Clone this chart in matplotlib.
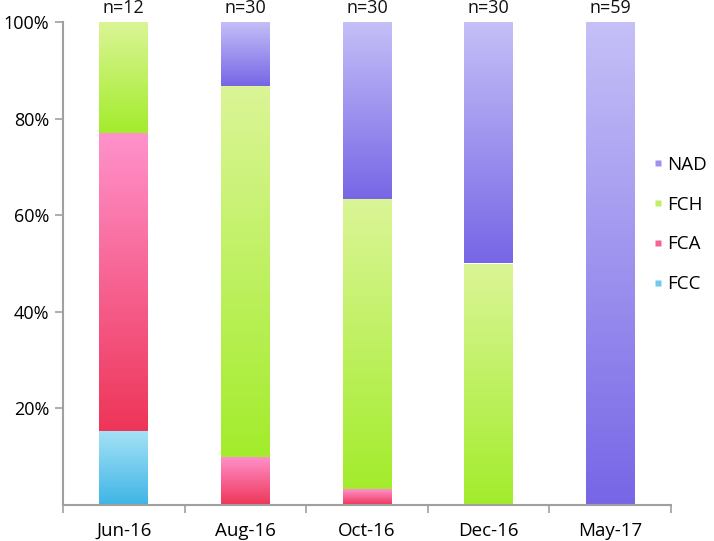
import numpy as np
import matplotlib
matplotlib.use("Agg")
import matplotlib.pyplot as plt
from matplotlib.colors import LinearSegmentedColormap
from matplotlib.lines import Line2D

plt.rcParams['font.family'] = ['Open Sans', 'DejaVu Sans']

categories = ["Jun-16", "Aug-16", "Oct-16", "Dec-16", "May-17"]
n_labels = ["n=12", "n=30", "n=30", "n=30", "n=59"]
series = ["FCC", "FCA", "FCH", "NAD"]
FCC = [15.4, 0, 0, 0, 0]
FCA = [61.6, 10.0, 3.3, 0, 0]
FCH = [23.0, 76.7, 60.0, 50.0, 0]
NAD = [0, 13.3, 36.7, 50.0, 100.0]
values = [FCC, FCA, FCH, NAD]

# (top colour, bottom colour) for each series gradient
grads = {
    "FCC": ("#a6e2f6", "#3eb5e6"),
    "FCA": ("#ff92cc", "#ee3558"),
    "FCH": ("#dbf597", "#a3ec2c"),
    "NAD": ("#c5c0f7", "#7766e6"),
}
legend_cols = {"FCC": "#6fcbee", "FCA": "#f7619a", "FCH": "#bff060", "NAD": "#9e92ee"}

fig = plt.figure(figsize=(7.14, 5.41), dpi=100)
ax = fig.add_axes([63/714, 36/541, (671-63)/714, (505-22)/541])

x = np.arange(len(categories))
bottom = np.zeros(len(categories))
for name, vals in zip(series, values):
    vals = np.array(vals, dtype=float)
    bars = ax.bar(x, vals, width=0.40, bottom=bottom, color='none', edgecolor='none')
    cmap = LinearSegmentedColormap.from_list(name, [grads[name][1], grads[name][0]])
    for b, v in zip(bars, vals):
        if v <= 0:
            continue
        x0, y0 = b.get_x(), b.get_y()
        w, h = b.get_width(), b.get_height()
        grad = np.linspace(0, 1, 256).reshape(-1, 1)
        im = ax.imshow(grad, cmap=cmap, origin='lower', aspect='auto',
                       extent=(x0, x0 + w, y0, y0 + h), zorder=2, interpolation='bilinear')
        im.set_clip_path(b)
    bottom += vals

ax.set_xlim(-0.5, len(categories) - 0.5)
ax.set_ylim(0, 100)

for i, t in enumerate(n_labels):
    ax.text(x[i], 101.0, t, ha='center', va='bottom', fontsize=13, color='#111111', clip_on=False)

ax.set_yticks([20, 40, 60, 80, 100])
ax.set_yticklabels(["20%", "40%", "60%", "80%", "100%"], fontsize=13)
ax.set_xticks(x)
ax.set_xticklabels(categories, fontsize=13.5)
ax.tick_params(axis='x', which='major', length=0, pad=12)
ax.set_xticks(np.arange(-0.5, len(categories)), minor=True)
ax.tick_params(axis='x', which='minor', length=6, width=1.2, color='#a0a0a0', direction='out')
ax.tick_params(axis='y', length=6, width=1.2, color='#a0a0a0', direction='out', pad=4)

for s in ['top', 'right']:
    ax.spines[s].set_visible(False)
for s in ['left', 'bottom']:
    ax.spines[s].set_color('#a0a0a0')
    ax.spines[s].set_linewidth(1.5)

handles = [Line2D([], [], marker='s', linestyle='none', markersize=4.5,
                  markerfacecolor=legend_cols[n], markeredgecolor='none') for n in series[::-1]]
fig.legend(handles, series[::-1], loc='center left', bbox_to_anchor=(652/714, 0.585),
           frameon=False, fontsize=13.5, labelspacing=1.16, handletextpad=0.23,
           handlelength=0.6, borderpad=0, borderaxespad=0)

fig.savefig("out.png", dpi=100)
